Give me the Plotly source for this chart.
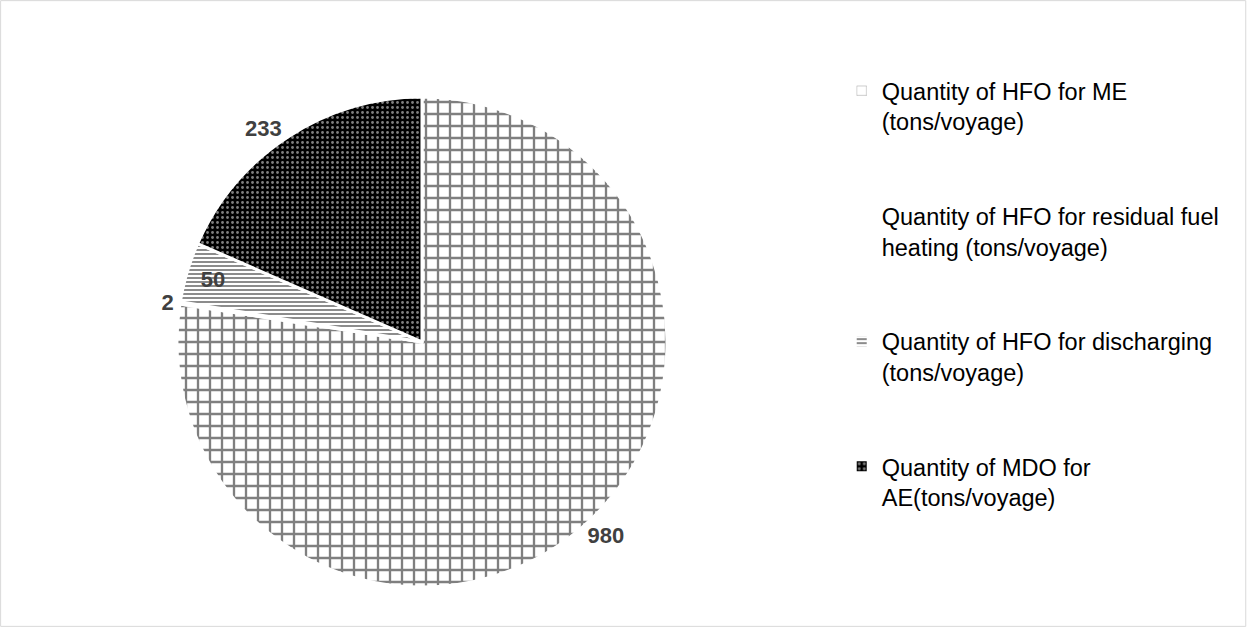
import plotly.graph_objects as go

# Fuel consumption per voyage by use
categories = [
    "Quantity of HFO for ME<br>(tons/voyage)",
    "Quantity of HFO for residual fuel<br>heating (tons/voyage)",
    "Quantity of HFO for discharging<br>(tons/voyage)",
    "Quantity of MDO for<br>AE(tons/voyage)",
]
values = [980, 2, 50, 233]

# Fill patterns per slice
pattern_shapes = ["+", "", "-", "."]
pattern_fg = ["black", "black", "black", "white"]
pattern_bg = ["white", "white", "white", "black"]
label_positions = ["outside", "outside", "inside", "outside"]

# pad legend entries so they are spread down the right side
legend_labels = [c + "<br> <br> " for c in categories]

fig = go.Figure(
    go.Pie(
        labels=legend_labels,
        values=values,
        sort=False,
        direction="clockwise",
        rotation=0,
        texttemplate="<b>%{value}</b>",
        textposition=label_positions,
        insidetextorientation="horizontal",
        textfont=dict(family="Liberation Sans, Arial, sans-serif", size=22, color="#404040"),
        marker=dict(
            colors=pattern_bg,
            line=dict(color="white", width=3),
            pattern=dict(
                shape=pattern_shapes,
                fgcolor=pattern_fg,
                bgcolor=pattern_bg,
                size=[12, 6, 4, 5],
                solidity=[0.35, 0.3, 0.45, 0.25],
                fillmode="overlay",
            ),
        ),
        domain=dict(x=[0.1419, 0.5349], y=[0.0638, 0.8453]),
        hoverinfo="label+value",
    )
)

fig.update_layout(
    width=1247,
    height=627,
    margin=dict(l=0, r=0, t=0, b=0),
    paper_bgcolor="white",
    plot_bgcolor="white",
    font=dict(family="Liberation Sans, Arial, sans-serif", color="black"),
    legend=dict(
        x=0.675,
        y=0.89,
        xanchor="left",
        yanchor="top",
        valign="top",
        font=dict(size=23.5, color="black"),
        itemsizing="constant",
        bgcolor="rgba(0,0,0,0)",
    ),
    shapes=[
        dict(
            type="rect", xref="paper", yref="paper",
            x0=0.0005, y0=0.001, x1=0.999, y1=0.999,
            line=dict(color="#d9d9d9", width=1),
        )
    ],
)

fig.write_html("out.html")
